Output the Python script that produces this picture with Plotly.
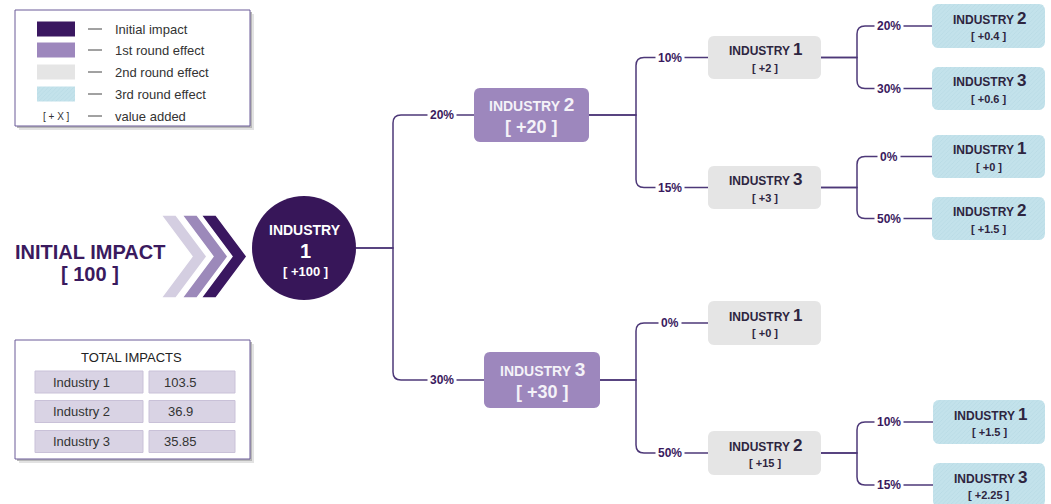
import numpy as np
import plotly.graph_objects as go

# ---------------- data ----------------
initial_impact = 100
root_industry = "1"
root_value = 100

l1_parent = [0, 0]
l1_industry = ["2", "3"]
l1_share = ["20%", "30%"]
l1_value = [20, 30]

l2_parent = [0, 0, 1, 1]
l2_industry = ["1", "3", "1", "2"]
l2_share = ["10%", "15%", "0%", "50%"]
l2_value = [2, 3, 0, 15]

l3_parent = [0, 0, 1, 1, 3, 3]
l3_industry = ["2", "3", "1", "2", "1", "3"]
l3_share = ["20%", "30%", "0%", "50%", "10%", "15%"]
l3_value = [0.4, 0.6, 0, 1.5, 1.5, 2.25]

total_industry = ["Industry 1", "Industry 2", "Industry 3"]
total_value = ["103.5", "36.9", "35.85"]

legend_labels = ["Initial impact", "1st round effect", "2nd round effect",
                 "3rd round effect", "value added"]

# ---------------- layout geometry / styles ----------------
W, H = 1051, 504
FONT = "Liberation Sans, Arial, sans-serif"
DARK = "#3a1760"
MED = "#9d87bd"
GREY = "#e5e5e5"
BLUE = "#c3e2eb"
LINE = "#4d3878"
TXT_DARK = "#2e2540"
PCT = "#3a1a5e"

ROOT_C = (304, 248)
ROOT_R = 52
L1_BOX = [(474, 88, 589, 142), (484, 352, 600, 408)]
L2_BOX = [(708, 36, 821, 79), (708, 166, 821, 209), (708, 301, 821, 345), (708, 431, 821, 475)]
L3_BOX = [(932, 4, 1045, 48), (932, 67, 1045, 110), (932, 135, 1045, 178),
          (932, 197, 1045, 240), (933, 400, 1045, 444), (933, 463, 1045, 507)]
BUS_X = [393, 636, 857]
LBL_X = [442, 670, 889]

fig = go.Figure()
shapes = []
ann = []


def rr_points(x0, y0, x1, y1, r, n=8):
    pts = []
    corners = [((x0 + r, y0 + r), 180, 270), ((x1 - r, y0 + r), 270, 360),
               ((x1 - r, y1 - r), 0, 90), ((x0 + r, y1 - r), 90, 180)]
    for (cx, cy), a0, a1 in corners:
        for a in np.linspace(np.radians(a0), np.radians(a1), n):
            pts.append((cx + r * np.cos(a), cy + r * np.sin(a)))
    return pts


def path_of(pts):
    return "M " + " L ".join(f"{x:.2f},{y:.2f}" for x, y in pts) + " Z"


def rrect(x0, y0, x1, y1, r, fill, line=None, lw=0):
    shapes.append(dict(type="path", path=path_of(rr_points(x0, y0, x1, y1, r)),
                       xref="x", yref="y", fillcolor=fill,
                       line=dict(color=line or fill, width=lw), layer="below"))


def pattern_box(x0, y0, x1, y1, r):
    pts = rr_points(x0, y0, x1, y1, r)
    xs = [p[0] for p in pts] + [pts[0][0]]
    ys = [p[1] for p in pts] + [pts[0][1]]
    fig.add_trace(go.Scatter(x=xs, y=ys, mode="lines", fill="toself",
                             fillcolor=BLUE, line=dict(width=0, color=BLUE),
                             fillpattern=dict(shape="/", bgcolor=BLUE, fgcolor="#acd2de",
                                              size=3, solidity=0.25),
                             hoverinfo="skip", showlegend=False))


def text(x, y, s, size, color, bold=False, xanchor="center", bg=None, pad=1):
    ann.append(dict(x=x, y=y, xref="x", yref="y", text=s, showarrow=False,
                    xanchor=xanchor, yanchor="middle",
                    font=dict(family=FONT, size=size, color=color,
                              weight="bold" if bold else "normal"),
                    bgcolor=bg, borderpad=pad))


def connect(px, py, bus, child_box, share, lbl_x):
    cx0 = child_box[0]
    cy = (child_box[1] + child_box[3]) / 2
    r = 8
    sgn = -1 if cy < py else 1
    path = (f"M {px},{py} L {bus},{py} L {bus},{cy - sgn * r} "
            f"Q {bus},{cy} {bus + r},{cy} L {cx0},{cy}")
    shapes.append(dict(type="path", path=path, xref="x", yref="y",
                       line=dict(color=LINE, width=1.5), layer="below"))
    text(lbl_x, cy, share, 12, PCT, bold=True, bg="white", pad=2)


def boxed_panel(x0, y0, x1, y1):
    shapes.append(dict(type="rect", x0=x0 + 4, y0=y0 + 4, x1=x1 + 4, y1=y1 + 4,
                       xref="x", yref="y", fillcolor="#e2e2e2", line=dict(width=0), layer="below"))
    shapes.append(dict(type="rect", x0=x0 + 2, y0=y0 + 2, x1=x1 + 2, y1=y1 + 2,
                       xref="x", yref="y", fillcolor="#b8b8b8", line=dict(width=0), layer="below"))
    shapes.append(dict(type="rect", x0=x0, y0=y0, x1=x1, y1=y1, xref="x", yref="y",
                       fillcolor="white", line=dict(color="#6b5b98", width=1), layer="below"))


def fmt(v):
    return f"[ +{v:g} ]"


# ---------------- legend panel ----------------
boxed_panel(15, 10, 250, 126)
rows_y = [29, 50, 72, 94, 116]
swatch_cols = [DARK, MED, GREY, None]
for i, lab in enumerate(legend_labels):
    y = rows_y[i]
    if i < 3:
        shapes.append(dict(type="rect", x0=37, x1=75, y0=y - 7.5, y1=y + 7.5, xref="x", yref="y",
                           fillcolor=swatch_cols[i], line=dict(width=0), layer="below"))
    elif i == 3:
        xs = [37, 75, 75, 37, 37]
        ys = [y - 7.5, y - 7.5, y + 7.5, y + 7.5, y - 7.5]
        fig.add_trace(go.Scatter(x=xs, y=ys, mode="lines", fill="toself", fillcolor=BLUE,
                                 line=dict(width=0, color=BLUE),
                                 fillpattern=dict(shape="/", bgcolor=BLUE, fgcolor="#acd2de",
                                                  size=3, solidity=0.25),
                                 hoverinfo="skip", showlegend=False))
    else:
        text(56, y, "[ + X ]", 10, "#333333")
    shapes.append(dict(type="line", x0=88, x1=102, y0=y, y1=y, xref="x", yref="y",
                       line=dict(color="#444444", width=1), layer="below"))
    text(113, y, lab, 13, "#333333", xanchor="left")

# ---------------- initial impact + chevrons ----------------
text(90, 252, "INITIAL IMPACT", 20, PCT, bold=True)
text(90, 274, f"[ {initial_impact} ]", 20, PCT, bold=True)

chev_cols = ["#d4cee1", "#9c89ba", DARK]
chev_x = [161, 182, 201]
top, bot, mid, t, d = 215, 298, 256.5, 15, 31
for a, c in zip(chev_x, chev_cols):
    pts = [(a, top), (a + t, top), (a + t + d, mid), (a + t, bot), (a, bot), (a + d, mid)]
    shapes.append(dict(type="path", path=path_of(pts), xref="x", yref="y", fillcolor=c,
                       line=dict(color="white", width=1.5), layer="below"))

# ---------------- root node ----------------
cx, cy = ROOT_C
shapes.append(dict(type="circle", x0=cx - ROOT_R, x1=cx + ROOT_R, y0=cy - ROOT_R, y1=cy + ROOT_R,
                   xref="x", yref="y", fillcolor="#371659", line=dict(width=0), layer="below"))
text(cx + 1, 230, "INDUSTRY", 14, "white", bold=True)
text(cx + 1, 251, root_industry, 20, "white", bold=True)
text(cx + 1, 271, fmt(root_value), 13, "white", bold=True)

# ---------------- connectors ----------------
for i, b in enumerate(L1_BOX):
    connect(cx + ROOT_R, cy, BUS_X[0], b, l1_share[i], LBL_X[0])
for i, b in enumerate(L2_BOX):
    p = L1_BOX[l2_parent[i]]
    connect(p[2], (p[1] + p[3]) / 2, BUS_X[1], b, l2_share[i], LBL_X[1])
for i, b in enumerate(L3_BOX):
    p = L2_BOX[l3_parent[i]]
    connect(p[2], (p[1] + p[3]) / 2, BUS_X[2], b, l3_share[i], LBL_X[2])

# ---------------- first round nodes ----------------
for i, (x0, y0, x1, y1) in enumerate(L1_BOX):
    rrect(x0, y0, x1, y1, 6, MED)
    mx, my = (x0 + x1) / 2, (y0 + y1) / 2
    text(mx, my - 11, f"INDUSTRY <span style='font-size:19px'>{l1_industry[i]}</span>", 14,
         "#f4f2f8", bold=True)
    text(mx, my + 12, fmt(l1_value[i]), 18, "#f4f2f8", bold=True)

# ---------------- second round nodes ----------------
for i, (x0, y0, x1, y1) in enumerate(L2_BOX):
    rrect(x0, y0, x1, y1, 6, GREY)
    mx, my = (x0 + x1) / 2, (y0 + y1) / 2
    text(mx + 1, my - 8, f"INDUSTRY <span style='font-size:17px'>{l2_industry[i]}</span>", 12,
         TXT_DARK, bold=True)
    text(mx, my + 10, fmt(l2_value[i]), 11, TXT_DARK, bold=True)

# ---------------- third round nodes ----------------
for i, (x0, y0, x1, y1) in enumerate(L3_BOX):
    pattern_box(x0, y0, x1, y1, 6)
    mx, my = (x0 + x1) / 2, (y0 + y1) / 2
    if y1 > H:
        my = (y0 + 507) / 2
    text(mx + 1, my - 8, f"INDUSTRY <span style='font-size:17px'>{l3_industry[i]}</span>", 12,
         TXT_DARK, bold=True)
    text(mx, my + 10, fmt(l3_value[i]), 11, TXT_DARK, bold=True)

# ---------------- total impacts panel ----------------
boxed_panel(15, 340, 250, 459)
text(131, 357, "TOTAL IMPACTS", 13, "#222222")
row_c = [382, 411.5, 441.5]
for i in range(len(total_industry)):
    y = row_c[i]
    for (a, b) in [(35, 143), (149, 235)]:
        shapes.append(dict(type="rect", x0=a, x1=b, y0=y - 11, y1=y + 11, xref="x", yref="y",
                           fillcolor="#d9d3e4", line=dict(color="#c9c1d8", width=1), layer="below"))
    text(81, y, total_industry[i], 13, "#333333")
    text(180, y, total_value[i], 13, "#333333")

fig.update_layout(
    width=W, height=H, margin=dict(l=0, r=0, t=0, b=0),
    paper_bgcolor="white", plot_bgcolor="white",
    xaxis=dict(range=[0, W], visible=False, fixedrange=True),
    yaxis=dict(range=[H, 0], visible=False, fixedrange=True),
    shapes=shapes, annotations=ann, showlegend=False,
)
fig.write_html("out.html", config={"displayModeBar": False},
               post_script="document.body.style.margin='0';document.body.style.overflow='hidden';")
